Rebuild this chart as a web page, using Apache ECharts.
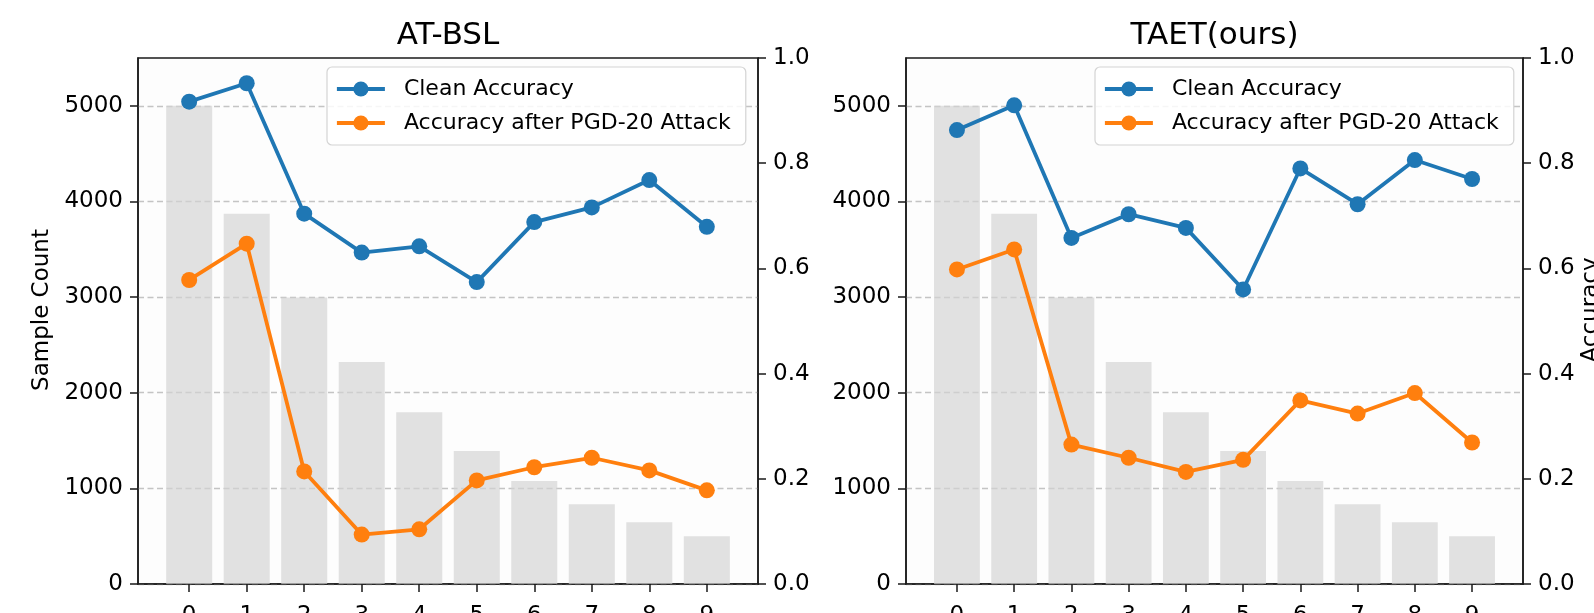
<!DOCTYPE html>
<html>
<head>
<meta charset="utf-8">
<script src="https://cdn.jsdelivr.net/npm/echarts@6/dist/echarts.min.js"></script>
<style>
html,body{margin:0;padding:0;background:#fff;}
#chart{width:1594px;height:613px;}
</style>
</head>
<body>
<div id="chart"></div>
<script>
// ---- data ----
const categories = [0, 1, 2, 3, 4, 5, 6, 7, 8, 9];
const sampleCounts = [5000, 3871, 2997, 2320, 1796, 1391, 1077, 834, 645, 500];
const bslClean = [0.917, 0.952, 0.704, 0.630, 0.642, 0.574, 0.688, 0.716, 0.768, 0.679];
const bslPgd   = [0.578, 0.647, 0.214, 0.094, 0.104, 0.197, 0.222, 0.240, 0.216, 0.178];
const taetClean = [0.863, 0.910, 0.658, 0.703, 0.677, 0.560, 0.790, 0.722, 0.806, 0.770];
const taetPgd   = [0.598, 0.636, 0.265, 0.240, 0.213, 0.236, 0.349, 0.324, 0.363, 0.269];
const countTicks = [0, 1000, 2000, 3000, 4000, 5000];
const titles = ['AT-BSL', 'TAET(ours)'];
const seriesNames = ['Clean Accuracy', 'Accuracy after PGD-20 Attack'];

// ---- layout ----
const FONT = 'DejaVu Sans';
const TICK_FS = 23;
const grids = [
  {left: 138, top: 58, width: 620, height: 526},
  {left: 906, top: 58, width: 617, height: 526}
];
const XMIN = -0.89, XMAX = 9.89;
const BLUE = '#1f77b4', ORANGE = '#ff7f0e';
const AXC = '#1a1a1a';

const chart = echarts.init(document.getElementById('chart'), null, {renderer: 'canvas'});

const pairs = (arr) => arr.map((v, i) => [categories[i], v]);

const tickLabel = (extra) => Object.assign({margin: 15, fontSize: TICK_FS, color: '#000', fontFamily: FONT}, extra);

const option = {
  animation: false,
  backgroundColor: '#ffffff',
  textStyle: {fontFamily: FONT},
  title: grids.map((g, i) => ({
    text: titles[i],
    left: g.left + g.width / 2,
    textAlign: 'center',
    top: 20,
    padding: 0,
    textStyle: {fontFamily: FONT, fontSize: 31, fontWeight: 'normal', color: '#000'}
  })),
  legend: grids.map((g, i) => ({
    data: seriesNames,
    orient: 'vertical',
    left: g.left + 189,
    top: 67,
    itemWidth: 48,
    itemHeight: 19,
    itemGap: 12,
    padding: [11, 15, 11, 8],
    backgroundColor: 'rgba(255,255,255,0.85)',
    borderColor: '#d4d4d4',
    borderWidth: 1.2,
    borderRadius: 5,
    lineStyle: {width: 3.8},
    textStyle: {fontFamily: FONT, fontSize: 22, color: '#000', lineHeight: 22, padding: [0, 0, 0, 14]}
  })),
  grid: grids.map(g => ({
    left: g.left, top: g.top, width: g.width, height: g.height,
    show: true, backgroundColor: '#fdfdfd', borderColor: AXC, borderWidth: 1.5,
    containLabel: false, outerBoundsMode: 'none'
  })),
  xAxis: grids.map((g, i) => ({
    type: 'value', gridIndex: i, min: XMIN, max: XMAX,
    axisLine: {show: true, onZero: false, lineStyle: {color: AXC, width: 1.5}},
    axisTick: {show: true, length: 8, lineStyle: {color: AXC, width: 1.5}, customValues: categories},
    axisLabel: tickLabel({margin: 21, customValues: categories, formatter: v => String(Math.round(v))}),
    splitLine: {show: false}
  })),
  yAxis: [
    // left chart - counts
    {type: 'value', gridIndex: 0, min: 0, max: 5500, position: 'left',
     name: 'Sample Count', nameLocation: 'middle', nameRotate: 90, nameGap: 84,
     nameTextStyle: {fontFamily: FONT, fontSize: 23, color: '#000', padding: [0, 0, 0, 22]},
     axisLine: {show: true, onZero: false, lineStyle: {color: AXC, width: 1.5}},
     axisTick: {show: true, length: 8, lineStyle: {color: AXC, width: 1.5}, customValues: countTicks},
     axisLabel: tickLabel({customValues: countTicks, formatter: v => String(v)}),
     splitLine: {show: true, lineStyle: {color: '#c4c4c4', width: 1.4, type: [6, 3.5]}}},
    // left chart - accuracy
    {type: 'value', gridIndex: 0, min: 0, max: 1, interval: 0.2, position: 'right',
     axisLine: {show: true, onZero: false, lineStyle: {color: AXC, width: 1.5}},
     axisTick: {show: true, length: 8, lineStyle: {color: AXC, width: 1.5}},
     axisLabel: tickLabel({formatter: v => v.toFixed(1)}),
     splitLine: {show: false}},
    // right chart - counts
    {type: 'value', gridIndex: 1, min: 0, max: 5500, position: 'left',
     axisLine: {show: true, onZero: false, lineStyle: {color: AXC, width: 1.5}},
     axisTick: {show: true, length: 8, lineStyle: {color: AXC, width: 1.5}, customValues: countTicks},
     axisLabel: tickLabel({customValues: countTicks, formatter: v => String(v)}),
     splitLine: {show: true, lineStyle: {color: '#c4c4c4', width: 1.4, type: [6, 3.5]}}},
    // right chart - accuracy
    {type: 'value', gridIndex: 1, min: 0, max: 1, interval: 0.2, position: 'right',
     name: 'Accuracy', nameLocation: 'middle', nameRotate: 90, nameGap: 57,
     nameTextStyle: {fontFamily: FONT, fontSize: 23, color: '#000', padding: [0, 0, 0, 22]},
     axisLine: {show: true, onZero: false, lineStyle: {color: AXC, width: 1.5}},
     axisTick: {show: true, length: 8, lineStyle: {color: AXC, width: 1.5}},
     axisLabel: tickLabel({formatter: v => v.toFixed(1)}),
     splitLine: {show: false}}
  ],
  series: []
};

const accData = [[bslClean, bslPgd], [taetClean, taetPgd]];
grids.forEach((g, i) => {
  const unit = g.width / (XMAX - XMIN);
  option.series.push({
    type: 'bar', name: 'Samples', xAxisIndex: i, yAxisIndex: i * 2,
    data: pairs(sampleCounts), barWidth: 0.8 * unit,
    itemStyle: {color: 'rgba(211,211,211,0.68)'}, z: 1, silent: true
  });
  [BLUE, ORANGE].forEach((c, k) => {
    option.series.push({
      type: 'line', name: seriesNames[k], xAxisIndex: i, yAxisIndex: i * 2 + 1,
      data: pairs(accData[i][k]),
      symbol: 'circle', symbolSize: 16, showSymbol: true,
      lineStyle: {color: c, width: 3.8},
      itemStyle: {color: c},
      z: 3
    });
  });
});

chart.setOption(option);
</script>
</body>
</html>
